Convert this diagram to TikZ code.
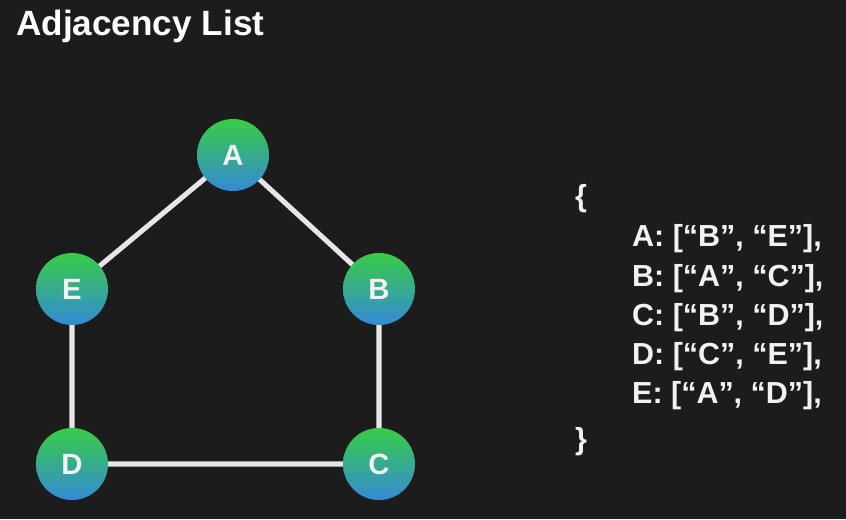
\documentclass[tikz,border=0pt]{standalone}
\usepackage{fontspec}
\setmainfont{Liberation Sans}
\definecolor{bg}{HTML}{1C1C1C}
\definecolor{edgegray}{HTML}{E6E6E6}
\definecolor{topgreen}{RGB}{56,204,70}
\definecolor{botblue}{RGB}{52,138,214}
\definecolor{txt}{HTML}{F2F2F2}
\tikzset{
  vertex/.style={circle, minimum size=72*0.03cm, inner sep=0pt,
    top color=topgreen, middle color=topgreen!72!botblue, bottom color=botblue, text=txt,
    font=\fontsize{25}{25}\selectfont\bfseries},
  edge/.style={draw=edgegray, line width=4.3pt},
  code/.style={anchor=base west, inner sep=0pt, text=txt,
    font=\fontsize{26}{26}\selectfont\bfseries}
}
\begin{document}
\begin{tikzpicture}[x=0.03cm, y=-0.03cm]
\fill[bg] (0,0) rectangle (846,519);
\useasboundingbox (0,0) rectangle (846,519);

\node[anchor=base west, inner sep=0pt, text=white,
  font=\fontsize{30}{30}\selectfont\bfseries] (title) at (16,35) {Adjacency List};

% edges first, vertices on top
\coordinate (pA) at (233,155);
\coordinate (pB) at (379,289);
\coordinate (pC) at (379,464);
\coordinate (pD) at (72,464);
\coordinate (pE) at (72,289);
\draw[edge] (pA) -- (pB) -- (pC) -- (pD) -- (pE) -- cycle;

\node[vertex] (A) at (pA) {A};
\node[vertex] (B) at (pB) {B};
\node[vertex] (C) at (pC) {C};
\node[vertex] (D) at (pD) {D};
\node[vertex] (E) at (pE) {E};

\node[code] (open) at (575,206) {\{};
\node[code] (rowA) at (632,246) {A: [“B”, “E”],};
\node[code] (rowB) at (632,286) {B: [“A”, “C”],};
\node[code] (rowC) at (632,325) {C: [“B”, “D”],};
\node[code] (rowD) at (632,364) {D: [“C”, “E”],};
\node[code] (rowE) at (632,403) {E: [“A”, “D”],};
\node[code] (close) at (575,449) {\}};
\end{tikzpicture}
\end{document}
